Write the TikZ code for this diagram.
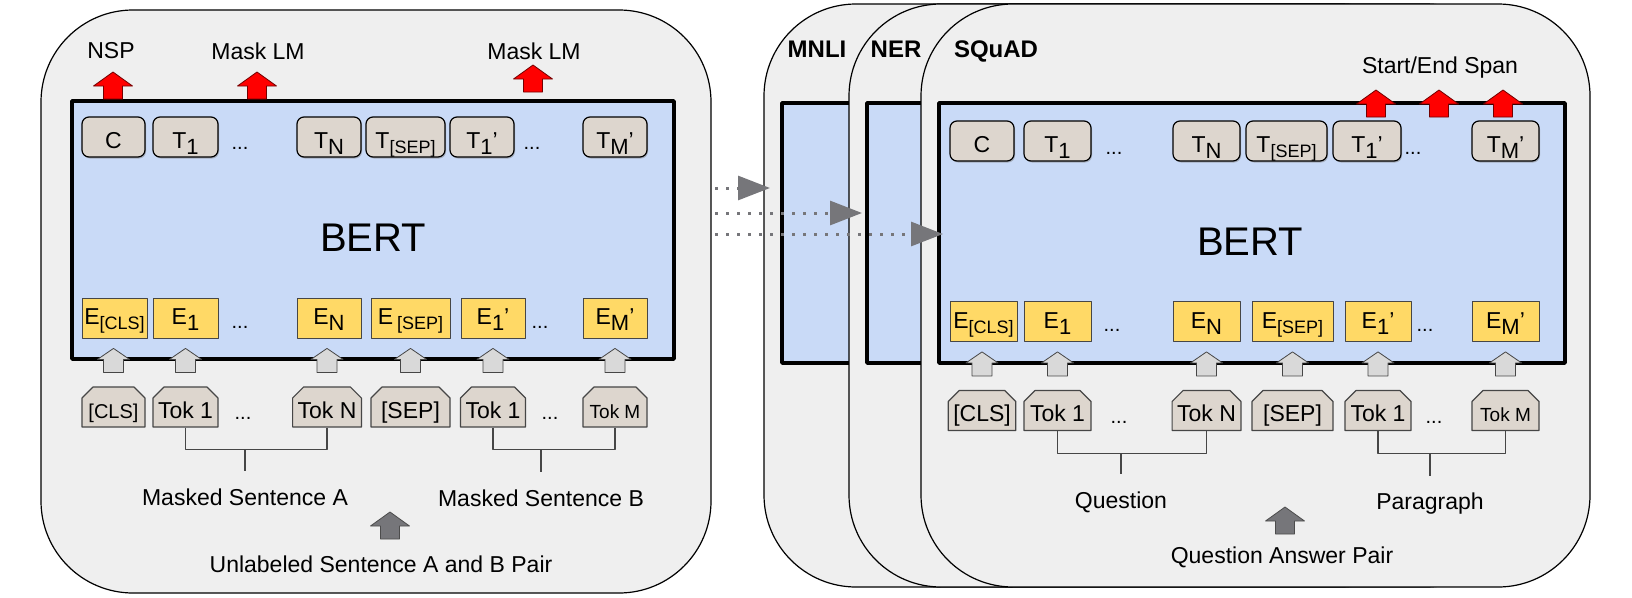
\documentclass[tikz,border=0pt]{standalone}
\usepackage{fontspec}
\setmainfont{Liberation Sans}
\usetikzlibrary{arrows.meta,shapes.misc,shadows}

\definecolor{panelgrey}{RGB}{239,239,239}
\definecolor{bertblue}{RGB}{201,218,247}
\definecolor{tokbeige}{RGB}{221,214,206}
\definecolor{embyellow}{RGB}{255,217,102}
\definecolor{arrowlight}{RGB}{217,217,217}
\definecolor{arrowdark}{RGB}{118,118,122}
\definecolor{linegrey}{RGB}{70,70,70}

\newcommand{\lsub}[1]{\raisebox{-6pt}{\fontsize{22}{22}\selectfont #1}}
\newcommand{\lsubs}[1]{\raisebox{-5pt}{\fontsize{18}{18}\selectfont #1}}

\tikzset{
  panel/.style={draw=black, line width=1.2pt, fill=panelgrey, rounded corners=92pt},
  bertbox/.style={draw=black, line width=3.5pt, fill=bertblue},
  outbox/.style={draw=black, line width=1.2pt, fill=tokbeige, rounded corners=7pt,
    minimum height=40pt, inner sep=0pt, text height=22pt, text depth=0pt,
    drop shadow={shadow xshift=1pt, shadow yshift=-1.5pt}},
  embbox/.style={draw=linegrey, line width=1pt, fill=embyellow,
    minimum height=40pt, inner sep=0pt, text height=13pt, text depth=0pt},
  tokbox/.style={chamfered rectangle, chamfered rectangle corners={north west,north east},
    chamfered rectangle xsep=5pt, chamfered rectangle ysep=6pt,
    draw=linegrey, line width=1.2pt, fill=tokbeige,
    minimum height=40pt, inner sep=0pt, text height=22pt, text depth=0pt},
  lbl/.style={anchor=base, inner sep=0pt},
  dotlbl/.style={anchor=base, inner sep=0pt, font=\fontsize{20}{22}\selectfont},
  bertlbl/.style={anchor=base, inner sep=0pt, font=\fontsize{40}{44}\selectfont},
  tasklbl/.style={anchor=base, inner sep=0pt, font=\fontsize{24}{28}\selectfont\bfseries},
  bracket/.style={draw=linegrey, line width=1.2pt},
  redarrow/.style={fill=red, draw=red!45!black, line width=0.8pt},
  greyarrow/.style={fill=arrowlight, draw=linegrey, line width=0.8pt},
  darkarrow/.style={fill=arrowdark, draw=black!70, line width=0.8pt},
  dotarrow/.style={draw=arrowdark, line width=3pt, dash pattern=on 3pt off 8pt,
    -{Triangle[length=32pt, width=24pt, color=arrowdark, fill=arrowdark]}},
  bigup/.pic={\path[pic actions] (-9.5,0) -- (-9.5,-13) -- (-19.5,-13) -- (0,-27)
    -- (19.5,-13) -- (9.5,-13) -- (9.5,0) -- cycle;},
  smallup/.pic={\path[pic actions] (-10,0) -- (-10,-13) -- (-16,-13) -- (0,-24)
    -- (16,-13) -- (10,-13) -- (10,0) -- cycle;}
}

\begin{document}
\begin{tikzpicture}[x=1pt, y=-1pt, line join=round, font=\fontsize{23}{27}\selectfont]
\useasboundingbox (0,0) rectangle (1632,597);

% pre-training
\draw[panel] (41,10) rectangle (711,593);
\draw[bertbox] (72,101) rectangle (674,359);
\node[bertlbl] (lbert) at (373,251) {BERT};

\foreach \n/\x/\w/\t in {lc/113.5/63/C, lt1/185.5/65/{T\lsub{1}}, ltn/329/64/{T\lsub{N}},
    ltsep/405.5/79/{T\lsubs{[SEP]}}, lt1p/482/64/{T\lsub{1}’}, ltmp/615/64/{T\lsub{M}’}}
  \node[outbox, minimum width=\w pt] (\n) at (\x,137) {\t};
\foreach \n/\x/\w/\t in {lecls/114.5/65/{E\lsubs{[CLS]}}, le1/185.5/65/{E\lsub{1}}, len/329/64/{E\lsub{N}},
    lesep/410.5/79/{E\,\lsubs{[SEP]}}, le1p/493/64/{E\lsub{1}’}, lemp/615/64/{E\lsub{M}’}}
  \node[embbox, minimum width=\w pt] (\n) at (\x,318) {\t};
\foreach \n/\x/\w/\t in {lkcls/113.5/63/{\fontsize{20}{24}\selectfont [CLS]}, lk1/185.5/65/{Tok 1},
    lkn/327/68/{Tok N}, lksep/410.5/79/{[SEP]}, lk1p/493/64/{Tok 1},
    lkm/615/64/{\fontsize{19}{23}\selectfont Tok M}}
  \node[tokbox, minimum width=\w pt] (\n) at (\x,407) {\t};

\foreach \n/\x/\y in {ldt1/240/149, ldt2/532/149, lde1/240/328, lde2/540/328, ldk1/243/419, ldk2/550/419}
  \node[dotlbl] (\n) at (\x,\y) {...};

\node[lbl] (lnsp) at (111,58) {NSP};
\node[lbl] (lmlm1) at (258,59) {Mask LM};
\node[lbl] (lmlm2) at (534,59) {Mask LM};
\node[lbl] (lsenta) at (245,505) {Masked Sentence A};
\node[lbl] (lsentb) at (541,506) {Masked Sentence B};
\node[lbl] (lpair) at (381,572) {Unlabeled Sentence A and B Pair};

\coordinate (lbra) at (245,449);
\coordinate (lbrb) at (541,449);
\draw[bracket] (lk1.south) -- ++(0,22) -| (lkn.south);
\draw[bracket] (lbra) -- ++(0,22);
\draw[bracket] (lk1p.south) -- ++(0,22) -| (lkm.south);
\draw[bracket] (lbrb) -- ++(0,23);

% fine-tuning
\foreach \c/\x in {mnli/764, ner/849, squad/921}{
  \draw[panel] (\x,4) rectangle ++(669,583);
  \draw[bertbox] (\x+18,103) rectangle ++(626,260);
}
\node[tasklbl] (tmnli) at (817,57) {MNLI};
\node[tasklbl] (tner) at (896,57) {NER};
\node[tasklbl] (tsquad) at (996,57) {SQuAD};
\node[bertlbl] (rbert) at (1250,255) {BERT};

\foreach \n/\x/\w/\t in {rc/982/64/C, rt1/1057.5/67/{T\lsub{1}}, rtn/1206.5/67/{T\lsub{N}},
    rtsep/1286.5/81/{T\lsubs{[SEP]}}, rt1p/1367/68/{T\lsub{1}’}, rtmp/1505.5/67/{T\lsub{M}’}}
  \node[outbox, minimum width=\w pt] (\n) at (\x,141) {\t};
\foreach \n/\x/\w/\t in {recls/983.5/67/{E\lsubs{[CLS]}}, re1/1057.5/67/{E\lsub{1}}, ren/1206.5/67/{E\lsub{N}},
    resep/1292.5/81/{E\lsubs{[SEP]}}, re1p/1378/66/{E\lsub{1}’}, remp/1505.5/67/{E\lsub{M}’}}
  \node[embbox, minimum width=\w pt, text height=15pt] (\n) at (\x,321) {\t};
\foreach \n/\x/\w/\t in {rkcls/982/64/{[CLS]}, rk1/1057.5/67/{Tok 1},
    rkn/1206.5/67/{Tok N}, rksep/1292.5/81/{[SEP]}, rk1p/1378/66/{Tok 1},
    rkm/1505.5/67/{\fontsize{19}{23}\selectfont Tok M}}
  \node[tokbox, minimum width=\w pt] (\n) at (\x,410.5) {\t};

\foreach \n/\x/\y in {rdt1/1114/154, rdt2/1413/154, rde1/1112/331, rde2/1425/331, rdk1/1119/423, rdk2/1434/423}
  \node[dotlbl] (\n) at (\x,\y) {...};

\node[lbl] (rspan) at (1440,73) {Start/End Span};
\node[lbl] (rques) at (1121,508) {Question};
\node[lbl] (rpara) at (1430,509) {Paragraph};
\node[lbl] (rpair) at (1282,563) {Question Answer Pair};

\coordinate (rbrq) at (1121,453);
\coordinate (rbrp) at (1430,453);
\draw[bracket] (rk1.south) -- ++(0,22) -| (rkn.south);
\draw[bracket] (rbrq) -- ++(0,21);
\draw[bracket] (rk1p.south) -- ++(0,22) -| (rkm.south);
\draw[bracket] (rbrp) -- ++(0,23);

% block arrows
\foreach \n in {lkcls,lk1,lkn,lksep,lk1p,lkm,rkcls,rk1,rkn,rksep,rk1p,rkm}
  \pic[greyarrow] at ([yshift=14pt]\n.north) {smallup};
\foreach \x/\y in {113/99, 257/99, 533/92, 1376/117, 1439/117, 1503/117}
  \pic[redarrow] at (\x,\y) {bigup};
\pic[darkarrow] at (390,539) {bigup};
\pic[darkarrow] at (1285,534) {bigup};

% transfer arrows
\coordinate (d1s) at (715,188); \coordinate (d1e) at (770,188);
\coordinate (d2s) at (715,213); \coordinate (d2e) at (862,213);
\coordinate (d3s) at (715,234); \coordinate (d3e) at (943,234);
\foreach \i in {1,2,3}
  \draw[dotarrow] (d\i s) -- (d\i e);
\end{tikzpicture}
\end{document}
